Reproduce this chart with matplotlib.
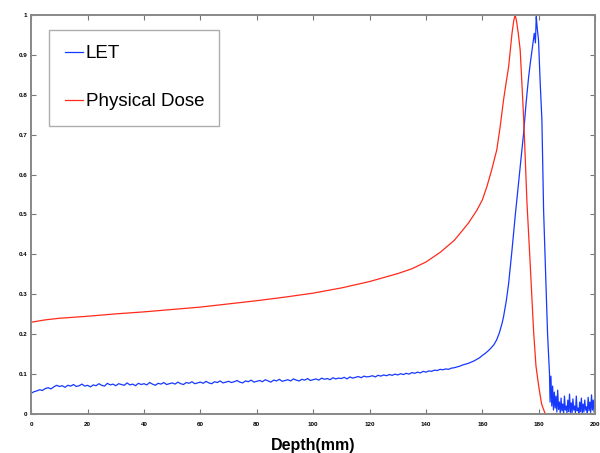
import matplotlib
matplotlib.use('Agg')
import matplotlib.pyplot as plt
import numpy as np

OUT_FILE = 'out.png'

# physical dose curve (depth in mm, normalised dose)
dose_depth = [0, 5, 10, 20, 30, 40, 50, 60, 70, 80, 90, 100, 110, 120, 130, 135,
              140, 145, 150, 152, 155, 158, 160, 161.6, 163.3, 165.1, 166.3, 167.5,
              168.4, 169.3, 170.5, 171.1, 171.6, 172.1, 172.7, 173.4, 174.0, 174.6,
              175.2, 175.8, 176.4, 177.0, 177.6, 178.2, 179.0, 180.0, 181.0, 182.3,
              200]
dose_value = [0.230, 0.236, 0.240, 0.245, 0.251, 0.256, 0.262, 0.268, 0.276, 0.284,
              0.293, 0.303, 0.316, 0.332, 0.352, 0.364, 0.381, 0.405, 0.435, 0.452,
              0.478, 0.510, 0.537, 0.570, 0.612, 0.662, 0.720, 0.787, 0.830, 0.870,
              0.954, 0.985, 1.000, 0.985, 0.955, 0.912, 0.830, 0.745, 0.640, 0.530,
              0.450, 0.369, 0.285, 0.202, 0.120, 0.068, 0.025, 0.0, 0.0]

# LET plateau, one reading per mm from 0 to 157 mm
let_plateau = [
    0.052, 0.056, 0.058, 0.061, 0.059, 0.064, 0.066, 0.063, 0.068, 0.072,
    0.069, 0.071, 0.067, 0.072, 0.070, 0.074, 0.069, 0.071, 0.075, 0.070,
    0.072, 0.068, 0.073, 0.071, 0.076, 0.072, 0.070, 0.077, 0.073, 0.075,
    0.071, 0.076, 0.074, 0.072, 0.078, 0.073, 0.075, 0.071, 0.077, 0.074,
    0.076, 0.073, 0.079, 0.075, 0.072, 0.077, 0.075, 0.079, 0.074, 0.076,
    0.078, 0.075, 0.080, 0.076, 0.074, 0.079, 0.077, 0.081, 0.076, 0.078,
    0.080, 0.077, 0.082, 0.078, 0.076, 0.081, 0.079, 0.083, 0.078, 0.080,
    0.082, 0.079, 0.081, 0.084, 0.080, 0.078, 0.083, 0.081, 0.085, 0.080,
    0.082, 0.084, 0.081, 0.086, 0.083, 0.080, 0.085, 0.083, 0.087, 0.082,
    0.084, 0.086, 0.083, 0.088, 0.085, 0.083, 0.087, 0.085, 0.089, 0.084,
    0.086, 0.088, 0.085, 0.090, 0.087, 0.089, 0.086, 0.091, 0.088, 0.090,
    0.089, 0.092, 0.088, 0.093, 0.090, 0.092, 0.094, 0.091, 0.095, 0.093,
    0.094, 0.096, 0.093, 0.097, 0.095, 0.098, 0.096, 0.099, 0.097, 0.100,
    0.098, 0.101, 0.099, 0.102, 0.100, 0.104, 0.102, 0.105, 0.103, 0.107,
    0.105, 0.108, 0.107, 0.110, 0.109, 0.112, 0.111, 0.113, 0.112, 0.115,
    0.116, 0.118, 0.120, 0.123, 0.125, 0.127, 0.130, 0.133]

# LET around the peak and the noisy tail
let_peak_depth = [158, 159, 160, 161, 162, 163, 164, 165, 166, 167, 167.5, 168.5,
                  169.3, 170.5, 171.6, 172.2, 173.4, 174.6, 175.5, 176.4, 177.0,
                  177.6, 178.4, 178.8, 179.1, 179.4, 179.9, 180.5, 181.1, 181.4,
                  181.7, 182.3, 183.1, 183.8]
let_peak_value = [0.137, 0.141, 0.147, 0.152, 0.158, 0.165, 0.173, 0.185, 0.203,
                  0.228, 0.244, 0.285, 0.327, 0.411, 0.494, 0.536, 0.620, 0.703,
                  0.780, 0.845, 0.880, 0.912, 0.954, 0.930, 0.996, 0.970, 0.937,
                  0.829, 0.737, 0.620, 0.511, 0.380, 0.202, 0.100]
let_tail_depth = [184.0, 184.3, 184.6, 184.9, 185.2, 185.5, 185.8, 186.1, 186.4,
                  186.7, 187.0, 187.3, 187.6, 187.9, 188.2, 188.5, 188.8, 189.1,
                  189.4, 189.7, 190.0, 190.3, 190.6, 190.9, 191.2, 191.5, 191.8,
                  192.1, 192.4, 192.7, 193.0, 193.3, 193.6, 193.9, 194.2, 194.5,
                  194.8, 195.1, 195.4, 195.7, 196.0, 196.3, 196.6, 196.9, 197.2,
                  197.5, 197.8, 198.1, 198.4, 198.7, 199.0, 199.3, 199.6, 199.9]
let_tail_value = [0.030, 0.095, 0.020, 0.070, 0.010, 0.055, 0.015, 0.045, 0.005,
                  0.060, 0.012, 0.030, 0.003, 0.040, 0.008, 0.025, 0.002, 0.045,
                  0.010, 0.020, 0.003, 0.035, 0.006, 0.050, 0.004, 0.028, 0.002,
                  0.038, 0.010, 0.020, 0.004, 0.045, 0.008, 0.015, 0.003, 0.030,
                  0.006, 0.040, 0.002, 0.025, 0.005, 0.035, 0.010, 0.018, 0.003,
                  0.042, 0.008, 0.030, 0.004, 0.048, 0.010, 0.035, 0.005, 0.040]

x_ticks = [0, 20, 40, 60, 80, 100, 120, 140, 160, 180, 200]
y_ticks = [0, 0.1, 0.2, 0.3, 0.4, 0.5, 0.6, 0.7, 0.8, 0.9, 1]


def let_curve():
    depth = list(range(len(let_plateau))) + let_peak_depth + let_tail_depth
    value = let_plateau + let_peak_value + let_tail_value
    return np.array(depth, dtype=float), np.array(value)


def main():
    fig = plt.figure(figsize=(6, 4.53), dpi=100)
    ax = fig.add_axes([0.052, 0.086, 0.940, 0.881])

    d, v = let_curve()
    ax.plot(d, v, color='#1638ff', lw=0.9, label='LET')
    ax.plot(dose_depth, dose_value, color='#ff2a1a', lw=0.9, label='Physical Dose')

    ax.set_xlim(0, 200)
    ax.set_ylim(0, 1)
    ax.set_xticks(x_ticks)
    ax.set_yticks(y_ticks)
    ax.set_xticklabels(['%g' % t for t in x_ticks])
    ax.set_yticklabels(['%g' % t for t in y_ticks])
    ax.tick_params(direction='in', length=3.5, width=0.8, color='#777777',
                   labelsize=4.5, top=True, right=True)
    ax.tick_params(axis='x', pad=5.5)
    ax.tick_params(axis='y', pad=2.7)
    for lab in ax.get_xticklabels() + ax.get_yticklabels():
        lab.set_family('Liberation Sans')
        lab.set_fontweight('bold')
    for s in ax.spines.values():
        s.set_color('#888888')
        s.set_linewidth(1.4)

    ax.set_xlabel('Depth(mm)', fontsize=11.5, fontweight='bold',
                  family='Liberation Sans', labelpad=8)

    leg = ax.legend(loc='upper left', bbox_to_anchor=(0.032, 0.963),
                    borderaxespad=0, fancybox=False, frameon=True,
                    prop={'family': 'Liberation Sans', 'size': 13.5},
                    handlelength=1.0, handletextpad=0.12, labelspacing=1.66,
                    borderpad=0.82)
    leg.get_frame().set_edgecolor('#999999')
    leg.get_frame().set_linewidth(1.0)

    fig.savefig(OUT_FILE, dpi=100)


if __name__ == "__main__":
    main()
